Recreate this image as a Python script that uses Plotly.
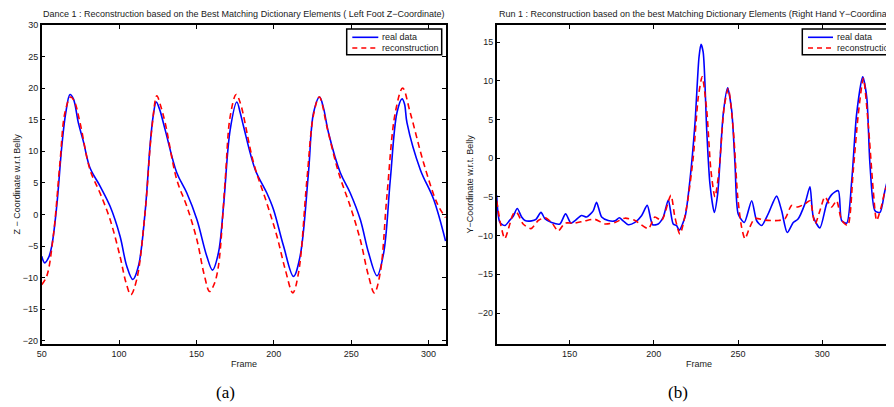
import plotly.graph_objects as go

# ---------------- Data: (a) Dance 1, left foot Z ----------------
dance_real_frames = [50, 52, 54.5, 56.5, 59.7, 63, 65.5, 68.3, 70.5, 73.7, 77, 81.2, 87.7, 94.2, 100.6, 105, 108.9, 112.5,
                     116.8, 120, 122, 124, 126, 129.8, 137.3, 143.8, 150.3, 156.7, 160.4, 164.2, 167.5, 171.8, 176.1,
                     178.3, 180.4, 188, 195.5, 199.8, 206.3, 212.7, 217, 222.4, 225.7, 229.6, 232, 235.4, 243, 249.4,
                     255.9, 261.3, 266.7, 271, 275.3, 279.6, 282.9, 284.5, 286.1, 294.7, 303.3, 311]
dance_real_values = [-6.6, -7.65, -6.8, -5.0, 1.3, 10.8, 16.0, 19.0, 18.3, 14.5, 11.5, 7.4, 4.5, 1.3, -3.4, -8.2, -10.3, -8.2,
                     0.3, 10.8, 15.5, 17.8, 16.8, 13.4, 6.6, 3.4, -0.8, -6.6, -8.8, -6.1, 1.3, 13.4, 17.8,
                     16.1, 14.0, 7.1, 3.4, 0.8, -5.0, -9.8, -6.6, 6.6, 16.1, 18.6, 17.0, 12.9, 6.6, 3.4,
                     -0.8, -6.1, -9.7, -6.1, 5.5, 16.1, 18.3, 17.5, 14.5, 7.1, 2.4, -4.2]
dance_rec_frames = [50, 53.2, 57.5, 61.8, 65, 68.7, 71, 74.8, 81.2, 87.7, 94.2, 100.6, 104.5, 107.6, 111.4, 116.8, 121.1,
                    124.4, 126.5, 129.8, 137.3, 143.8, 150.3, 155, 158.5, 161.5, 164.2, 168.6, 171.8, 175.7, 178.3,
                    186.9, 195.5, 202, 207.4, 212.3, 216, 221.4, 225.7, 229.4, 234.8, 241.9, 249.4, 255.9, 261, 265,
                    268.8, 273.1, 278.5, 283.3, 288.2, 296.8, 305.5, 311]
dance_rec_values = [-11.1, -9.8, -3.4, 8.2, 16.1, 18.6, 18.0, 14.5, 7.1, 3.4, -0.8, -6.6, -10.8, -12.7, -10.3, 0.3, 13.4,
                    18.8, 17.5, 14.5, 5.5, 1.3, -4.0, -9.5, -12.2, -11.0, -8.2, 5.5, 15.5, 19.0, 17.7,
                    8.2, 1.8, -3.4, -8.7, -12.4, -9.2, 5.5, 15.8, 18.6, 13.4, 6.6, 1.3, -4.0, -9.5, -12.4,
                    -9.2, 2.9, 16.1, 20.0, 16.1, 8.2, 1.8, -0.5]

# ---------------- Data: (b) Run 1, right hand Y ----------------
run_real_frames = [106.7, 108.6, 111.6, 114.5, 116.5, 118.9, 121.5, 123.5, 127.4, 130, 133, 135.3, 139.3, 144.2, 147.6,
                   150.8, 153, 157.1, 160.1, 164, 166, 169, 172.9, 176.9, 179.5, 181.8, 184.8, 188.8, 192.8, 196.1,
                   199.3, 202.6, 205.6, 208.6, 211.5, 213.5, 215.1, 218.5, 221.4, 224.4, 226.8, 228, 229.3, 231.4,
                   233.3, 235.9, 237.9, 241.2, 243.8, 246.2, 248.2, 250.1, 253.7, 258.1, 261, 264, 267.9, 272.9,
                   275.9, 279.2, 282.8, 285.5, 289.7, 292.7, 294.7, 298.6, 302.6, 305.6, 309.5, 311.5, 314.5, 317.5,
                   320.4, 324, 326.4, 328.3, 331.3, 334.3, 337.2, 339.6, 342.6]
run_real_values = [-4.8, -8.3, -8.7, -8.0, -7.5, -6.5, -7.6, -8.05, -8.1, -7.9, -7.0, -7.8, -8.3, -8.5, -7.2,
                   -8.4, -8.1, -7.4, -7.6, -6.8, -5.7, -7.6, -8.05, -8.1, -7.7, -8.1, -8.6, -8.3, -7.4, -6.1,
                   -8.6, -8.5, -7.6, -5.4, -8.5, -8.7, -9.3, -7.6, -2.9, 4.4, 13.0, 14.7, 13.7, 3.6,
                   -3.3, -7.0, -4.6, 5.7, 9.1, 6.2, -0.7, -7.2, -8.3, -5.5, -8.05, -8.7, -7.2, -4.9,
                   -6.8, -9.6, -8.3, -7.9, -5.9, -3.7, -7.6, -9.0, -5.9, -4.7, -4.2, -8.05, -8.4, -2.9,
                   5.7, 10.5, 7.9, -0.7, -6.8, -7.0, -4.2, -2.4, -7.0]
run_rec_frames = [106.7, 109, 111.5, 114.5, 116.5, 118.5, 122.4, 127, 131.4, 135.3, 139.3, 143.2, 147.2, 153, 159.1, 165,
                  171, 176.9, 182.8, 188.8, 196.7, 200.6, 204.6, 210.1, 212.5, 215.5, 219.5, 223.4, 226.4, 228.7,
                  231.4, 233.9, 236.3, 238.7, 241.8, 244.2, 247.2, 249.8, 252.1, 254.1, 257, 260, 266, 273.9, 277.9,
                  281.8, 285.5, 289.7, 292.7, 295.7, 298.6, 301.6, 305.6, 308.5, 311.5, 315.1, 318.4, 321.4, 324.4,
                  327.3, 330.3, 332.3, 335, 338.2, 341]
run_rec_values = [-5.5, -8.5, -10.4, -8.5, -7.2, -7.0, -8.5, -9.1, -8.05, -7.7, -8.3, -9.4, -8.4, -8.4, -8.1, -7.9,
                  -8.5, -8.3, -7.75, -8.05, -9.1, -7.6, -8.05, -4.8, -7.6, -9.8, -6.3, 0.1, 7.9, 10.5,
                  6.2, -1.6, -5.0, -1.6, 6.6, 9.0, 3.6, -5.0, -8.9, -10.4, -8.9, -7.8, -8.0, -8.05, -7.8,
                  -6.1, -6.3, -5.9, -5.5, -8.5, -6.8, -5.0, -6.3, -5.5, -8.0, -8.7, -1.6, 5.7, 10.3,
                  4.4, -4.2, -8.05, -6.3, -3.7, -5.2]

left_title = "Dance 1 : Reconstruction based on the Best Matching Dictionary Elements ( Left Foot Z\u2212Coordinate)"
right_title = "Run 1 : Reconstruction based on the best Matching Dictionary Elements (Right Hand Y\u2212Coordinate)"
left_ylabel = "Z \u2212 Coordinate w.r.t Belly"
right_ylabel = "Y\u2212Coordinate w.r.t. Belly"
series_names = ["real data", "reconstruction"]

# The page body has an 8px default margin, so the figure is sized to fill the
# rest of the 894x407 window; all layout positions below are in window pixels.
OFF = 8
W, H = 894 - OFF, 407 - OFF
BLUE = "#0000ff"
RED = "#ff0000"
FONT = "Liberation Sans, Arial, sans-serif"
TXT = "#1a1a1a"

fig = go.Figure()
fig.add_trace(go.Scatter(x=dance_real_frames, y=dance_real_values, mode="lines", name=series_names[0],
                         line=dict(color=BLUE, width=1.6, shape="spline", smoothing=1.0),
                         xaxis="x", yaxis="y", showlegend=False))
fig.add_trace(go.Scatter(x=dance_rec_frames, y=dance_rec_values, mode="lines", name=series_names[1],
                         line=dict(color=RED, width=1.6, dash="6px,4px", shape="spline", smoothing=1.0),
                         xaxis="x", yaxis="y", showlegend=False))
fig.add_trace(go.Scatter(x=run_real_frames, y=run_real_values, mode="lines", name=series_names[0],
                         line=dict(color=BLUE, width=1.6, shape="spline", smoothing=0.7),
                         xaxis="x2", yaxis="y2", showlegend=False))
fig.add_trace(go.Scatter(x=run_rec_frames, y=run_rec_values, mode="lines", name=series_names[1],
                         line=dict(color=RED, width=1.6, dash="6px,4px", shape="spline", smoothing=0.7),
                         xaxis="x2", yaxis="y2", showlegend=False))


def px(x):
    return (x - OFF) / W


def py(y):
    return 1 - (y - OFF) / H


ydom = [py(344), py(25)]
axcommon = dict(showgrid=False, zeroline=False, showline=True, linecolor="black", linewidth=1.5,
                ticks="inside", ticklen=4, tickwidth=1, tickcolor="black", automargin=False,
                tickfont=dict(family=FONT, size=9, color=TXT))

fig.update_layout(
    template="none",
    width=W, height=H, margin=dict(l=0, r=0, t=0, b=0, pad=0),
    paper_bgcolor="white", plot_bgcolor="white",
    xaxis=dict(domain=[px(41.7), px(446)], range=[50, 311.3], dtick=50, tick0=50, mirror="ticks",
               anchor="y", **axcommon),
    yaxis=dict(domain=ydom, range=[-20.5, 30], dtick=5, tick0=0, mirror="ticks", anchor="x", **axcommon),
    xaxis2=dict(domain=[px(496.7), 1.0], range=[106.7, 342.6], dtick=50, tick0=0, mirror="ticks",
                anchor="y2", **axcommon),
    yaxis2=dict(domain=ydom, range=[-24, 17.2], dtick=5, tick0=0, mirror=False, anchor="x2", **axcommon),
    showlegend=False,
)

# ---- manual legends (box, line samples, labels) ----
shapes = []
ann = []


def add_legend(x0, x1, line_x0, line_x1, text_x):
    shapes.append(dict(type="rect", xref="paper", yref="paper", x0=px(x0), x1=px(x1), y0=py(54.7), y1=py(29),
                       line=dict(color="black", width=1.5), fillcolor="white", layer="above"))
    shapes.append(dict(type="line", xref="paper", yref="paper", x0=px(line_x0), x1=px(line_x1),
                       y0=py(37.3), y1=py(37.3), line=dict(color=BLUE, width=1.6), layer="above"))
    shapes.append(dict(type="line", xref="paper", yref="paper", x0=px(line_x0), x1=px(line_x1),
                       y0=py(48), y1=py(48), line=dict(color=RED, width=1.6, dash="5px,4px"), layer="above"))
    ann.append(dict(text=series_names[0], x=px(text_x), y=py(37.3), xref="paper", yref="paper", showarrow=False,
                    xanchor="left", yanchor="middle", font=dict(family=FONT, size=9, color=TXT)))
    ann.append(dict(text=series_names[1], x=px(text_x), y=py(48), xref="paper", yref="paper", showarrow=False,
                    xanchor="left", yanchor="middle", font=dict(family=FONT, size=9, color=TXT)))


add_legend(346.7, 441.7, 352.3, 378.3, 379.5)
add_legend(802.3, 902, 808, 833, 835)

ann.append(dict(text=left_title, x=px(244), y=py(14), xref="paper", yref="paper", showarrow=False,
                xanchor="center", yanchor="middle", font=dict(family=FONT, size=9, color=TXT)))
ann.append(dict(text=right_title, x=px(497), y=py(14), xref="paper", yref="paper", showarrow=False,
                xanchor="left", yanchor="middle", font=dict(family=FONT, size=9, color=TXT)))
ann.append(dict(text=left_ylabel, x=px(17), y=py(184.5), xref="paper", yref="paper", showarrow=False,
                textangle=-90, xanchor="center", yanchor="middle", font=dict(family=FONT, size=9, color=TXT)))
ann.append(dict(text=right_ylabel, x=px(470), y=py(184.5), xref="paper", yref="paper", showarrow=False,
                textangle=-90, xanchor="center", yanchor="middle", font=dict(family=FONT, size=9, color=TXT)))
ann.append(dict(text="Frame", x=px(244), y=py(364), xref="paper", yref="paper", showarrow=False,
                xanchor="center", yanchor="middle", font=dict(family=FONT, size=9, color=TXT)))
ann.append(dict(text="Frame", x=px(699), y=py(364), xref="paper", yref="paper", showarrow=False,
                xanchor="center", yanchor="middle", font=dict(family=FONT, size=9, color=TXT)))
ann.append(dict(text="(a)", x=px(225.5), y=py(392), xref="paper", yref="paper", showarrow=False,
                xanchor="center", yanchor="middle", borderpad=0,
                font=dict(family="Liberation Serif, serif", size=17, color="black")))
ann.append(dict(text="(b)", x=px(678), y=py(392), xref="paper", yref="paper", showarrow=False,
                xanchor="center", yanchor="middle", borderpad=0,
                font=dict(family="Liberation Serif, serif", size=17, color="black")))
fig.update_layout(annotations=ann, shapes=shapes)

fig.write_html("out.html")
